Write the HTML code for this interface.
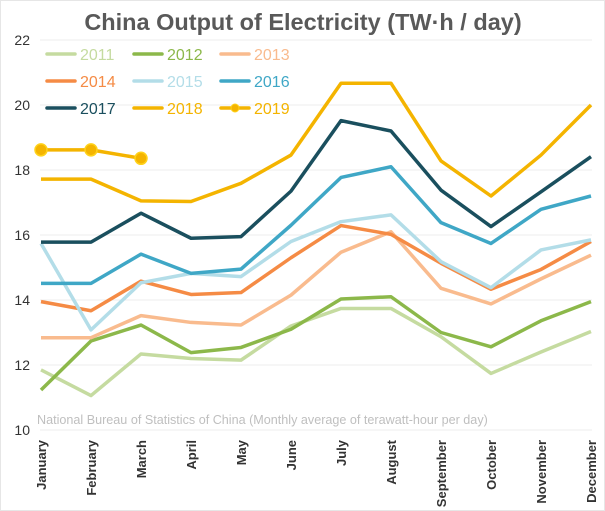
<!DOCTYPE html>
<html><head><meta charset="utf-8"><style>
body{margin:0;background:#fff;}
svg{display:block;font-family:"Liberation Sans",sans-serif;}
</style></head><body>
<svg id="chart" width="605" height="511">
<rect x="0.5" y="0.5" width="604" height="510" fill="#fff" stroke="#e6e6e6"/>
<text x="303" y="30" text-anchor="middle" font-size="23.5" font-weight="bold" fill="#595959">China Output of Electricity (TW·h / day)</text>
<g id="grid"></g><g id="ylabels"></g><g id="xlabels"></g>
<text x="37" y="424" font-size="12.6" fill="#bfbfbf">National Bureau of Statistics of China (Monthly average of terawatt-hour per day)</text>
<g id="series"></g><g id="legend"></g>
</svg>
<script>
const months=["January","February","March","April","May","June","July","August","September","October","November","December"];
const yTicks=[10,12,14,16,18,20,22];
const years=["2011","2012","2013","2014","2015","2016","2017","2018","2019"];
const colors=["#c5dba0","#8cb84a","#f9bb8e","#f58b45","#b3dde8","#3fa7c6","#1a4f5e","#f4b400","#f4b400"];
const s2011=[11.85,11.06,12.34,12.2,12.15,13.2,13.74,13.74,12.87,11.74,12.4,13.03];
const s2012=[11.23,12.74,13.23,12.38,12.54,13.1,14.03,14.1,13.0,12.56,13.36,13.95];
const s2013=[12.84,12.84,13.52,13.31,13.23,14.15,15.47,16.1,14.36,13.88,14.65,15.38];
const s2014=[13.95,13.67,14.58,14.17,14.23,15.3,16.29,16.02,15.13,14.33,14.94,15.8];
const s2015=[15.74,13.08,14.53,14.82,14.72,15.8,16.41,16.62,15.18,14.38,15.54,15.85];
const s2016=[14.51,14.51,15.41,14.82,14.95,16.3,17.77,18.1,16.38,15.74,16.79,17.2];
const s2017=[15.78,15.78,16.67,15.9,15.95,17.35,19.52,19.2,17.38,16.26,17.33,18.41];
const s2018=[17.72,17.72,17.05,17.03,17.59,18.46,20.67,20.67,18.28,17.2,18.46,20.0];
const s2019=[18.62,18.62,18.36];
const allSeries=[s2011,s2012,s2013,s2014,s2015,s2016,s2017,s2018,s2019];
const NS="http://www.w3.org/2000/svg";
function xS(i){return 41+i*(550/11);}
function yS(v){return 40+(22-v)*32.5;}
function mk(tag,attrs,parent){const e=document.createElementNS(NS,tag);for(const k in attrs)e.setAttribute(k,attrs[k]);parent.appendChild(e);return e;}
const grid=document.getElementById('grid'),yl=document.getElementById('ylabels'),xl=document.getElementById('xlabels');
yTicks.forEach(t=>{
 const l=mk('line',{x1:40,x2:592,y1:yS(t),y2:yS(t),stroke:'#ececec','stroke-width':1},grid);
 
 
 const tx=mk('text',{x:30,y:yS(t)+5,'text-anchor':'end','font-size':14,fill:'#333'},yl);
 tx.textContent=t;
 
 
});
months.forEach((m,i)=>{
 const x=xS(i)+5,y=440;
 const tx=mk('text',{x:x,y:y,transform:`rotate(-90 ${x} ${y})`,'text-anchor':'end','font-size':13,'font-weight':'bold',fill:'#333'},xl);
 tx.textContent=m;
 
 
});
const sg=document.getElementById('series');
allSeries.forEach((s,k)=>{
 const pts=s.map((v,i)=>xS(i)+','+yS(v)).join(' ');
 const pl=mk('polyline',{points:pts,fill:'none',stroke:colors[k],'stroke-width':3.5,'stroke-linejoin':'round'},sg);
 
 
 if(k===8){s.forEach((v,i)=>{
  const c=mk('circle',{cx:xS(i),cy:yS(v),r:6,fill:'#f4b400',stroke:'#ffd21a','stroke-width':1.5},sg);
  
  
 });}
});
const lg=document.getElementById('legend');
years.forEach((yr,k)=>{
 const col=k%3,row=Math.floor(k/3);
 const x=47+col*87,y=54+row*27;
 const g=mk('g',{},lg);
 
 
 mk('line',{x1:x,x2:x+28,y1:y,y2:y,stroke:colors[k],'stroke-width':3.5,'stroke-linecap':'round'},g);
 if(k===8)mk('circle',{cx:x+14,cy:y,r:4,fill:'#f4b400',stroke:'#ffd21a'},g);
 const t=mk('text',{x:x+33,y:y+6,'font-size':16,fill:colors[k]},g);
 t.textContent=yr;
});
</script>
</body></html>
